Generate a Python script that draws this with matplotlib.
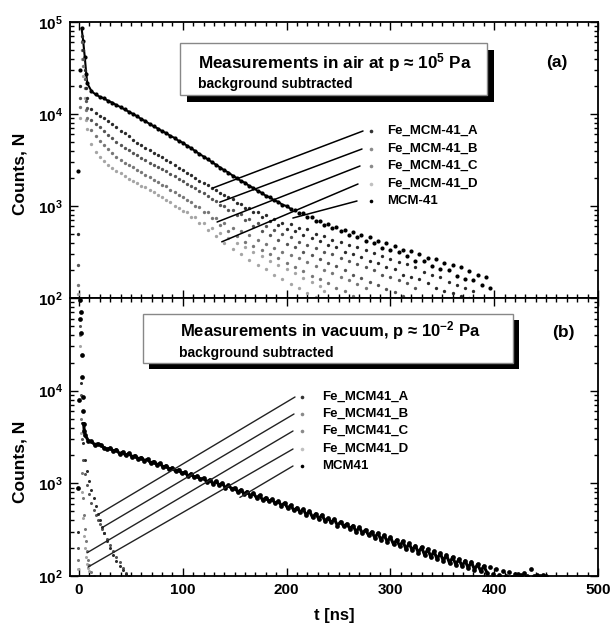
import numpy as np
import matplotlib
matplotlib.use('Agg')
import matplotlib.pyplot as plt
from matplotlib.patches import Rectangle
from matplotlib.lines import Line2D
from matplotlib.ticker import MultipleLocator, LogLocator, FuncFormatter, NullFormatter

plt.rcParams['font.family'] = ['Liberation Sans', 'DejaVu Sans']
plt.rcParams['font.weight'] = 'bold'
plt.rcParams['mathtext.fontset'] = 'custom'
plt.rcParams['mathtext.rm'] = 'Liberation Sans:bold'
plt.rcParams['mathtext.bf'] = 'Liberation Sans:bold'
plt.rcParams['mathtext.it'] = 'Liberation Sans:bold'

# ---------------- data (a) : air ----------------
labels_air = ['Fe_MCM-41_A', 'Fe_MCM-41_B', 'Fe_MCM-41_C', 'Fe_MCM-41_D', 'MCM-41']
t_air_early = [-1, 1, 2.5, 4, 5.5, 7]
early_air = {
    'MCM-41':      [2400, 30000, 85000, 62000, 42000, 27000],
    'Fe_MCM-41_A': [500, 20000, 70000, 50000, 30000, 19000],
    'Fe_MCM-41_B': [230, 15000, 60000, 40000, 24000, 14000],
    'Fe_MCM-41_C': [140, 12000, 50000, 33000, 19000, 11000],
    'Fe_MCM-41_D': [110, 9000, 40000, 26000, 15000, 8500],
}
# tails: one value every 4 ns starting at t = 8 ns
tail_air_mcm = [21500, 17700, 16300, 15400, 14800, 13900, 13300, 12500, 11900, 11200,
                10600, 10000, 9450, 8800, 8350, 7800, 7350, 6950, 6500, 6200,
                5780, 5500, 5100, 4880, 4520, 4260, 3950, 3680, 3450, 3220,
                3000, 2810, 2620, 2440, 2310, 2140, 2010, 1870, 1790, 1650,
                1570, 1460, 1390, 1290, 1240, 1150, 1110, 1030, 1000, 930,
                910, 840, 830, 760, 750, 690, 690, 620, 640, 570,
                590, 530, 545, 485, 520, 455, 480, 420, 455, 395,
                420, 350, 400, 330, 370, 320, 330, 285, 325, 255,
                300, 250, 275, 220, 265, 205, 240, 200, 230, 175,
                215, 160, 195, 155, 180, 140, 170, 130]
tail_air_a = [15000, 11300, 10200, 9600, 9000, 8350, 7700, 7150, 6600, 6150,
              5700, 5250, 4900, 4600, 4300, 4020, 3800, 3580, 3400, 3180,
              3000, 2790, 2620, 2440, 2300, 2160, 2000, 1890, 1770, 1690,
              1570, 1500, 1390, 1330, 1240, 1180, 1080, 1060, 950, 960,
              850, 860, 760, 790, 680, 720, 620, 660, 560, 640,
              530, 580, 480, 560, 450, 500, 420, 470, 380, 430,
              360, 410, 320, 380, 300, 355, 280, 330, 255, 310,
              240, 285, 215, 265, 205, 245, 180, 235, 170, 215,
              160, 190, 145, 180, 130, 170, 120, 150, 112, 140,
              105, 130, 100, 118]
tail_air_b = [11500, 8600, 7700, 7150, 6550, 5950, 5450, 5000, 4650, 4300,
              4050, 3780, 3560, 3340, 3150, 2960, 2790, 2660, 2510, 2390,
              2250, 2110, 1970, 1870, 1750, 1660, 1550, 1470, 1370, 1300,
              1200, 1140, 1030, 1010, 900, 900, 790, 810, 700, 730,
              610, 660, 540, 600, 480, 550, 430, 500, 390, 460,
              360, 410, 320, 380, 290, 350, 265, 320, 240, 300,
              220, 270, 200, 250, 180, 235, 165, 215, 150, 200,
              138, 180, 125, 170, 115, 155, 105, 145, 98, 130]
tail_air_c = [9000, 6700, 5750, 5150, 4650, 4150, 3750, 3420, 3170, 2960,
              2790, 2640, 2480, 2330, 2180, 2060, 1930, 1830, 1710, 1630,
              1510, 1430, 1320, 1260, 1160, 1100, 1010, 970, 870, 850,
              740, 740, 620, 650, 540, 580, 470, 530, 410, 480,
              370, 430, 330, 390, 300, 350, 270, 320, 240, 295,
              215, 270, 195, 245, 175, 225, 160, 200, 145, 185,
              130, 170, 118, 155, 106, 142, 98, 128]
tail_air_d = [6800, 4700, 3850, 3380, 3060, 2790, 2590, 2400, 2260, 2110,
              1990, 1870, 1780, 1660, 1590, 1480, 1410, 1310, 1250, 1160,
              1100, 1010, 960, 880, 850, 760, 750, 650, 660, 550,
              580, 470, 510, 400, 450, 345, 400, 300, 360, 260,
              320, 230, 285, 205, 255, 180, 230, 160, 205, 142,
              185, 128, 165, 114, 150, 102, 135, 120]
tails_air = {'MCM-41': tail_air_mcm, 'Fe_MCM-41_A': tail_air_a, 'Fe_MCM-41_B': tail_air_b,
             'Fe_MCM-41_C': tail_air_c, 'Fe_MCM-41_D': tail_air_d}

# ---------------- data (b) : vacuum ----------------
labels_vac = ['Fe_MCM41_A', 'Fe_MCM41_B', 'Fe_MCM41_C', 'Fe_MCM41_D', 'MCM41']
t_vac_mcm_early = [-1, 0, 0.5, 1, 1.5, 2, 2.5, 3, 3.5, 4, 4.5, 5]
vac_mcm_early = [900, 8000, 60000, 95000, 70000, 42000, 24000, 14000, 8500, 6000, 4400, 3700]
# one value every 3 ns starting at t = 6 ns
vac_mcm_tail = [3300, 2880, 2830, 2620, 2670, 2590, 2420, 2330, 2400, 2230,
                2310, 2090, 2170, 2000, 2110, 1940, 1990, 1840, 1900, 1760,
                1820, 1660, 1720, 1590, 1640, 1500, 1550, 1420, 1470, 1350,
                1400, 1280, 1320, 1200, 1270, 1160, 1200, 1100, 1140, 1040,
                1090, 990, 1050, 960, 1000, 900, 950, 875, 890, 810,
                850, 770, 815, 735, 780, 700, 740, 660, 700, 640,
                670, 610, 640, 575, 615, 540, 580, 510, 545, 490,
                525, 455, 500, 430, 470, 415, 455, 395, 420, 380,
                410, 350, 385, 345, 365, 325, 350, 300, 335, 290,
                315, 275, 300, 260, 290, 245, 275, 235, 262, 220,
                245, 210, 238, 195, 225, 190, 212, 178, 205, 168,
                195, 160, 185, 152, 176, 146, 168, 138, 160, 133,
                152, 128, 146, 122, 142, 117, 134, 113, 128, 109,
                124, 105, 118, 103, 114, 99, 110, 97, 106, 104,
                102, 108, 101, 120, 100, 103, 99, 102, 101]
t_vac_fe_a = [-1, 1, 2, 3, 4, 6, 8, 10, 12, 14, 16, 18, 20, 22, 24, 27, 30, 33, 36, 39, 42, 45]
vac_fe_a = [300, 60000, 12000, 4500, 2700, 1800, 1350, 1050, 850, 700, 570, 470, 400, 340,
            290, 240, 200, 170, 145, 128, 115, 105]
t_vac_fe_b = [-1, 1, 2, 3, 4, 6, 8, 10, 12, 14, 16, 18, 20, 22, 24, 27, 30, 33, 36, 39, 42, 45, 48]
vac_fe_b = [200, 50000, 9000, 3000, 1800, 1250, 950, 760, 620, 520, 450, 400, 360, 325,
            290, 250, 215, 185, 160, 140, 122, 108, 100]
t_vac_fe_c = [-1, 1, 2, 3, 4, 5, 6, 7, 8, 9, 10, 12, 14]
vac_fe_c = [150, 40000, 5000, 1300, 700, 450, 320, 240, 185, 150, 130, 110, 100]
t_vac_fe_d = [-1, 1, 2, 3, 4, 5, 6, 7, 8, 9, 10, 12]
vac_fe_d = [120, 30000, 3500, 800, 420, 270, 200, 160, 135, 122, 112, 100]

# leader lines: point on the curve (t, N)
lead_air_t = [129, 135.6, 133, 137.5, 206]
lead_air_n = [1570, 1100, 670, 408, 740]
lead_vac_t = [18.3, 22.1, 7.7, 8.7, 155]
lead_vac_n = [460, 332, 178, 125, 705]

colors = ['#2a2a2a', '#555555', '#777777', '#a5a5a5', '#000000']
leg_colors = ['#333333', '#8a8a8a', '#8a8a8a', '#c0c0c0', '#000000']

# ---------------- figure ----------------
W, H = 611, 631
fig = plt.figure(figsize=(W / 100, H / 100), dpi=100)
fig.patch.set_facecolor('white')


def fx(px):
    return px / W


def fy(py):
    return 1 - py / H


ax1 = fig.add_axes([fx(70), fy(298), 528 / W, 276 / H])
ax2 = fig.add_axes([fx(70), fy(576), 528 / W, 278 / H])


def log_fmt(v, pos):
    if v <= 0:
        return ''
    return r'$10^{%d}$' % int(round(np.log10(v)))


def log_fmt_b(v, pos):
    if v >= 9e4:
        return ''
    return log_fmt(v, pos)


for ax in (ax1, ax2):
    ax.set_yscale('log')
    ax.set_xlim(-8.7, 500)
    ax.set_ylim(100, 1e5)
    ax.xaxis.set_major_locator(MultipleLocator(100))
    ax.xaxis.set_minor_locator(MultipleLocator(10))
    ax.yaxis.set_major_locator(LogLocator(base=10))
    ax.yaxis.set_minor_locator(LogLocator(base=10, subs=np.arange(2, 10)))
    ax.yaxis.set_minor_formatter(NullFormatter())
    ax.tick_params(which='both', direction='in', top=True, right=True, width=1.0)
    ax.tick_params(which='major', length=6, labelsize=11, pad=5)
    ax.tick_params(which='minor', length=3)
    for s in ax.spines.values():
        s.set_linewidth(1.3)
    ax.set_ylabel('Counts, N', fontsize=12.5, fontweight='bold')

ax1.yaxis.set_major_formatter(FuncFormatter(log_fmt))
ax2.yaxis.set_major_formatter(FuncFormatter(log_fmt_b))
ax1.tick_params(labelbottom=False)
ax1.yaxis.set_label_coords(-0.08, 0.45)
ax2.yaxis.set_label_coords(-0.08, 0.41)
ax2.set_xlabel('t [ns]', fontsize=12, fontweight='bold', labelpad=8)

# panel (a) curves, lightest first so the dark ones stay on top
for lab, c, ms in zip(labels_air[::-1], colors[::-1], [3.0, 2.4, 2.4, 2.4, 2.4]):
    tail = tails_air[lab]
    t = list(t_air_early) + list(8 + 4 * np.arange(len(tail)))
    n = early_air[lab] + tail
    ax1.plot(t, n, ls='none', marker='o', ms=ms, mew=0, color=c)
    if lab == 'MCM-41':
        # the smooth part of the reference trace reads as a solid line
        k = 6 + 50
        ax1.plot(t[2:k], n[2:k], '-', lw=1.5, color=c)

# panel (b) curves
t_mcm = list(t_vac_mcm_early) + list(6 + 3 * np.arange(len(vac_mcm_tail)))
n_mcm = vac_mcm_early + vac_mcm_tail
for tt, nn, c, ms in [(t_vac_fe_d, vac_fe_d, colors[3], 2.2), (t_vac_fe_c, vac_fe_c, colors[2], 2.2),
                      (t_vac_fe_b, vac_fe_b, colors[1], 2.2), (t_vac_fe_a, vac_fe_a, colors[0], 2.2),
                      (t_mcm, n_mcm, colors[4], 3.4)]:
    ax2.plot(tt, nn, ls='none', marker='o', ms=ms, mew=0, color=c)
# dense noisy band of the reference: join the MCM41 points after the knee with a thick trace
k2 = 12 + 130
ax2.plot(t_mcm[10:k2], n_mcm[10:k2], '-', lw=2.2, color='black')

# legends with leader lines
air_rows = [131, 149, 166, 184, 201]
air_line_x = [363, 362, 360, 358, 357]
for i, lab in enumerate(labels_air):
    ax1.annotate('', xy=(lead_air_t[i], lead_air_n[i]), xycoords='data',
                 xytext=(fx(air_line_x[i]), fy(air_rows[i])), textcoords='figure fraction',
                 arrowprops=dict(arrowstyle='-', lw=1.1, color='black', shrinkA=0, shrinkB=0))
    fig.add_artist(Line2D([fx(371)], [fy(air_rows[i])], marker='o', ms=2.6, mew=0,
                          color=leg_colors[i], transform=fig.transFigure))
    fig.text(fx(387), fy(air_rows[i]), lab, fontsize=9.5, fontweight='bold', va='center', ha='left')

vac_rows = [397, 414, 431, 449, 466]
vac_line_x = [295, 294, 293, 293, 293]
for i, lab in enumerate(labels_vac):
    ax2.annotate('', xy=(lead_vac_t[i], lead_vac_n[i]), xycoords='data',
                 xytext=(fx(vac_line_x[i]), fy(vac_rows[i])), textcoords='figure fraction',
                 arrowprops=dict(arrowstyle='-', lw=1.0, color='#222222', shrinkA=0, shrinkB=0))
    fig.add_artist(Line2D([fx(302)], [fy(vac_rows[i])], marker='o', ms=2.6, mew=0,
                          color=leg_colors[i], transform=fig.transFigure))
    fig.text(fx(322), fy(vac_rows[i]), lab, fontsize=9.5, fontweight='bold', va='center', ha='left')


# title boxes with shadow
def shadow_box(x0, y0, x1, y1, off):
    fig.add_artist(Rectangle((fx(x0 + off), fy(y1 + off)), (x1 - x0) / W, (y1 - y0) / H,
                             transform=fig.transFigure, facecolor='black', edgecolor='none'))
    fig.add_artist(Rectangle((fx(x0), fy(y1)), (x1 - x0) / W, (y1 - y0) / H,
                             transform=fig.transFigure, facecolor='white', edgecolor='#888888', lw=1.0))


shadow_box(180, 43, 487, 95, 7)
fig.text(fx(198), fy(63), 'Measurements in air at p \u2248 10$^{5}$ Pa', fontsize=12.3, fontweight='bold',
         va='center', ha='left')
fig.text(fx(198), fy(84), 'background subtracted', fontsize=10, fontweight='bold', va='center', ha='left')

shadow_box(143, 314, 513, 363, 6)
fig.text(fx(180), fy(331), 'Measurements in vacuum, p \u2248 10$^{-2}$ Pa', fontsize=12, fontweight='bold',
         va='center', ha='left')
fig.text(fx(179), fy(353), 'background subtracted', fontsize=10, fontweight='bold', va='center', ha='left')

fig.text(fx(557), fy(63), '(a)', fontsize=12.5, fontweight='bold', va='center', ha='center')
fig.text(fx(563), fy(332), '(b)', fontsize=12.5, fontweight='bold', va='center', ha='center')

fig.savefig('out.png', dpi=100, facecolor='white')
